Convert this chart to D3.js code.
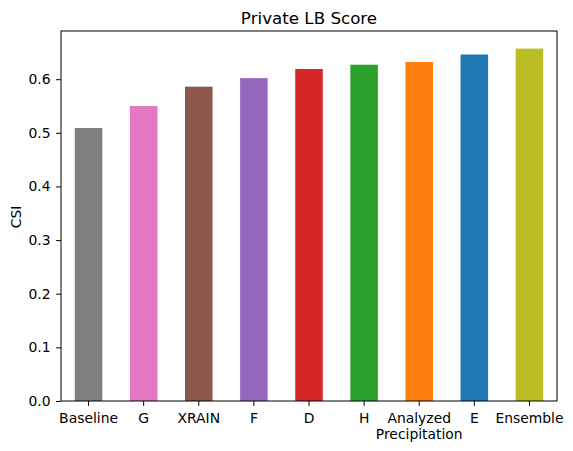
<!DOCTYPE html>
<html>
<head>
<meta charset="utf-8">
<script src="https://cdn.jsdelivr.net/npm/d3@7"></script>
<style>
  body { margin: 0; background: #fff; }
  text { font-family: "DejaVu Sans", sans-serif; fill: #000; }
</style>
</head>
<body>
<div class="chart"></div>
<script>
const models = ["Baseline", "G", "XRAIN", "F", "D", "H", "Analyzed\nPrecipitation", "E", "Ensemble"];
const scores = [0.509, 0.550, 0.586, 0.602, 0.619, 0.627, 0.632, 0.646, 0.657];
const barColors = ["#7f7f7f", "#e377c2", "#8c564b", "#9467bd", "#d62728", "#2ca02c", "#ff7f0e", "#1f77b4", "#bcbd22"];
const yTicks = [0.0, 0.1, 0.2, 0.3, 0.4, 0.5, 0.6];

const width = 573;
const height = 451;
const margin = {top: 31, right: 16, bottom: 50, left: 61};

const svg = d3.select(".chart").append("svg")
  .attr("width", width)
  .attr("height", height);

const x = d3.scaleBand()
  .domain(models)
  .range([margin.left, width - margin.right])
  .paddingInner(0.5)
  .paddingOuter(0.25);

const y = d3.scaleLinear()
  .domain([0, d3.max(scores) * 1.05])
  .range([height - margin.bottom, margin.top]);

// bars
svg.selectAll(".bar")
  .data(scores)
  .enter()
  .append("rect")
  .attr("class", "bar")
  .attr("x", (d, i) => x(models[i]))
  .attr("y", d => y(d))
  .attr("width", x.bandwidth())
  .attr("height", d => y(0) - y(d))
  .attr("fill", (d, i) => barColors[i]);

// y axis
const yAxis = svg.append("g")
  .attr("transform", "translate(" + margin.left + ",0)")
  .call(d3.axisLeft(y).tickValues(yTicks).tickFormat(d3.format(".1f")).tickSize(4.9).tickPadding(5.5));

// x axis
const xAxis = svg.append("g")
  .attr("transform", "translate(0," + (height - margin.bottom) + ")")
  .call(d3.axisBottom(x).tickSize(4.9).tickPadding(4.9));

[yAxis, xAxis].forEach(g => {
  g.select(".domain").remove();
  g.selectAll(".tick line").attr("stroke", "#000").attr("stroke-width", 1);
  g.selectAll(".tick text").style("font-size", "13.9px").attr("fill", "#000");
});

// multi-line x labels
xAxis.selectAll(".tick text").each(function(d) {
  const t = d3.select(this);
  const lines = d.split("\n");
  t.text(null);
  lines.forEach((line, i) => {
    t.append("tspan")
      .attr("x", 0)
      .attr("dy", i === 0 ? "0.85em" : "1.15em")
      .text(line);
  });
  t.attr("dy", null);
});

// frame
svg.append("rect")
  .attr("x", margin.left)
  .attr("y", margin.top)
  .attr("width", width - margin.left - margin.right)
  .attr("height", height - margin.top - margin.bottom)
  .attr("fill", "none")
  .attr("stroke", "#000")
  .attr("stroke-width", 1);

// title
svg.append("text")
  .attr("x", (margin.left + width - margin.right) / 2)
  .attr("y", 24)
  .style("text-anchor", "middle")
  .style("font-size", "16.7px")
  .text("Private LB Score");

// y label
svg.append("text")
  .attr("transform", "translate(21," + (margin.top + (height - margin.top - margin.bottom) / 2 + 1) + ") rotate(-90)")
  .style("text-anchor", "middle")
  .style("font-size", "13.9px")
  .text("CSI");
</script>
</body>
</html>
